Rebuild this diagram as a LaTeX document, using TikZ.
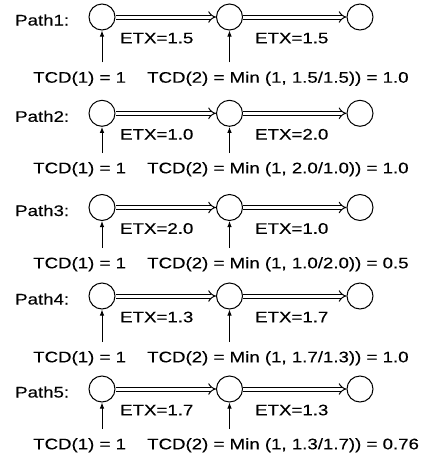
\documentclass[tikz,border=0pt]{standalone}
\usepackage{fontspec}
\setmainfont{Liberation Sans}[FakeStretch=1.22,FakeBold=0.3]
\usetikzlibrary{arrows.meta}
\begin{document}
\begin{tikzpicture}[x=1pt,y=-1pt,
  hop/.style={circle,draw,line width=1pt,minimum size=26pt,inner sep=0pt},
  link/.style={double,double distance=3pt,line width=1pt,-{Implies}},
  feed/.style={line width=1pt,-{Latex[length=6pt,width=4.5pt]}},
  lbl/.style={inner sep=0pt,anchor=base west,font=\fontsize{15.3}{18}\selectfont}]
\useasboundingbox (0,0) rectangle (422,464);
% one row per path: row centre, TCD baseline, ETX of both hops, resulting TCD(2)
\foreach \i/\cy/\ty/\ea/\eb/\r in {1/17/82.7/1.5/1.5/1.0,
                                   2/113.3/173.3/1.0/2.0/1.0,
                                   3/207.5/268.3/2.0/1.0/0.5,
                                   4/296/362.3/1.3/1.7/1.0,
                                   5/389/449.3/1.7/1.3/0.76}{
  \node[hop] (a\i) at (102,\cy) {};
  \node[hop] (b\i) at (229.5,\cy) {};
  \node[hop] (c\i) at (360,\cy) {};
  \draw[link] (a\i) -- (b\i);
  \draw[link] (b\i) -- (c\i);
  \node[lbl] (p\i) at (15,\cy+8.5) {Path\i:};
  \node[lbl] (e\i) at (120,\cy+26.3) {ETX=\ea};
  \node[lbl] (f\i) at (255,\cy+26.3) {ETX=\eb};
  \node[lbl] (t\i) at (33,\ty) {TCD(1) = 1};
  \node[lbl] (u\i) at (147,\ty) {TCD(2) = Min (1, \eb/\ea)) = \r};
  \draw[feed] ([yshift=9pt]t\i.north -| a\i) -- (a\i);
  \draw[feed] ([yshift=9pt]u\i.north -| b\i) -- (b\i);
}
\end{tikzpicture}
\end{document}
